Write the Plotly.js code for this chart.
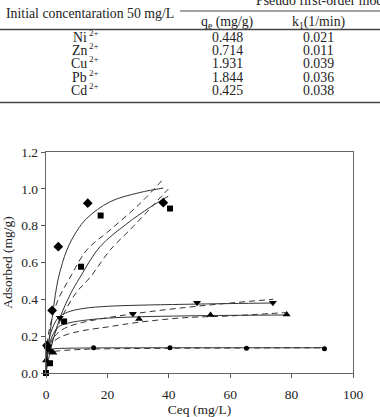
<!DOCTYPE html>
<html>
<head>
<meta charset="utf-8">
<script src="https://cdn.plot.ly/plotly-3.0.1.min.js"></script>
<style>
html,body{margin:0;padding:0;background:#fff;}
#chart{width:380px;height:417px;}
</style>
</head>
<body>
<div id="chart"></div>
<script>
// ---- Table data ----
var tableHeader = "Initial concentaration 50 mg/L";
var modelTitle = "Pseudo first-order model";
var colHeaders = ["q<sub>e</sub> (mg/g)", "k<sub>1</sub>(1/min)"];
var metals = ["Ni", "Zn", "Cu", "Pb", "Cd"];
var ionCharge = "2+";
var qeValues = ["0.448", "0.714", "1.931", "1.844", "0.425"];
var k1Values = ["0.021", "0.011", "0.039", "0.036", "0.038"];

// ---- Chart data: measured points ----
var cuX = [0.3, 2.0, 4.0, 13.6, 38.2];
var cuY = [0.15, 0.34, 0.686, 0.922, 0.925];
var pbX = [0.0, 1.3, 5.9, 11.4, 17.8, 40.4];
var pbY = [0.0, 0.053, 0.28, 0.577, 0.855, 0.893];
var znX = [0.5, 4.5, 28.3, 49.2, 73.9];
var znY = [0.13, 0.30, 0.322, 0.382, 0.382];
var niX = [0.0, 2.4, 30.3, 53.6, 78.4];
var niY = [0.068, 0.11, 0.293, 0.315, 0.318];
var cdX = [0.2, 1.6, 15.5, 40.4, 65.3, 90.7];
var cdY = [0.14, 0.12, 0.137, 0.137, 0.135, 0.132];

// ---- Fitted curves ----
var cuSolidX = [0, 0.5, 1, 2, 3, 4.1, 6.8, 10, 13.3, 20.9, 30.6, 38.2];
var cuSolidY = [0, 0.1, 0.18, 0.3, 0.42, 0.52, 0.668, 0.77, 0.84, 0.93, 0.98, 1.004];
var cuDashX = [0.1, 0.5, 1, 2, 4, 7.9, 13.3, 20.9, 30.6, 38.2];
var cuDashY = [0.1, 0.18, 0.23, 0.3, 0.4, 0.52, 0.668, 0.777, 0.92, 1.053];
var pbSolidX = [0, 1, 2, 3, 5, 8, 11.1, 17.6, 26.3, 33.9, 39.8];
var pbSolidY = [0, 0.09, 0.16, 0.22, 0.32, 0.43, 0.52, 0.686, 0.81, 0.9, 0.96];
var pbDashX = [0.1, 1, 3, 6, 10, 14.4, 20.9, 28.4, 35, 39.8];
var pbDashY = [0.06, 0.12, 0.22, 0.33, 0.44, 0.52, 0.668, 0.795, 0.913, 0.998];
var znSolidX = [0, 0.5, 1, 2, 4, 7, 12, 20, 30, 45, 60, 74];
var znSolidY = [0, 0.12, 0.18, 0.24, 0.3, 0.33, 0.35, 0.362, 0.368, 0.373, 0.377, 0.38];
var znDashX = [0.2, 1, 2, 4, 7, 12, 20, 30, 45, 60, 74];
var znDashY = [0.1, 0.15, 0.18, 0.22, 0.25, 0.275, 0.3, 0.325, 0.355, 0.38, 0.4];
var niSolidX = [0, 0.5, 1, 2, 4, 7, 12, 20, 30, 45, 60, 78];
var niSolidY = [0, 0.1, 0.15, 0.2, 0.25, 0.27, 0.285, 0.298, 0.305, 0.31, 0.313, 0.315];
var niDashX = [0.2, 1, 2, 4, 7, 12, 20, 30, 45, 60, 78];
var niDashY = [0.08, 0.13, 0.16, 0.19, 0.21, 0.23, 0.25, 0.275, 0.3, 0.31, 0.328];
var cdSolidX = [0, 0.3, 0.7, 1.5, 3, 6, 15, 40, 65, 90.7];
var cdSolidY = [0, 0.1, 0.12, 0.128, 0.132, 0.134, 0.136, 0.137, 0.137, 0.137];
var cdDashX = [0.2, 1, 2, 4, 8, 15, 30, 50, 70, 90.7];
var cdDashY = [0.09, 0.11, 0.115, 0.12, 0.125, 0.13, 0.133, 0.135, 0.136, 0.137];

var xTicks = [0, 20, 40, 60, 80, 100];
var yTicks = [0.0, 0.2, 0.4, 0.6, 0.8, 1.0, 1.2];

// ---- Build traces ----
var lineColor = "#333";
function curve(x, y, dashed) {
  return {x: x, y: y, type: "scatter", mode: "lines", hoverinfo: "skip",
    line: {color: lineColor, width: 1, shape: "spline", smoothing: 1, dash: dashed ? "6px,4px" : "solid"},
    showlegend: false, cliponaxis: false};
}
function pts(x, y, sym, size) {
  return {x: x, y: y, type: "scatter", mode: "markers", showlegend: false, cliponaxis: false,
    marker: {symbol: sym, size: size, color: "#000"}};
}
var traces = [
  curve(cuSolidX, cuSolidY, false), curve(cuDashX, cuDashY, true),
  curve(pbSolidX, pbSolidY, false), curve(pbDashX, pbDashY, true),
  curve(znSolidX, znSolidY, false), curve(znDashX, znDashY, true),
  curve(niSolidX, niSolidY, false), curve(niDashX, niDashY, true),
  curve(cdSolidX, cdSolidY, false), curve(cdDashX, cdDashY, true),
  pts(cuX, cuY, "diamond", 7.5),
  pts(pbX, pbY, "square", 6),
  pts(znX, znY, "triangle-down", 7),
  pts(niX, niY, "triangle-up", 7),
  pts(cdX, cdY, "circle", 5)
];

// ---- Layout ----
var L = 46, R = 27, T = 152, B = 44, W = 380, H = 417;
var pw = W - L - R, ph = H - T - B;
function px2x(px) { return (px - L) / pw; }
function py2y(py) { return (H - B - py) / ph; }

var font = "Liberation Serif, Times New Roman, serif";
var annotations = [];
function txt(t, px, py, anchor, size) {
  annotations.push({text: t, xref: "paper", yref: "paper", x: px2x(px), y: py2y(py),
    xanchor: anchor || "center", yanchor: "middle", showarrow: false, borderpad: 0,
    font: {family: font, size: size || 13.8, color: "#222"}});
}
txt(tableHeader, 90, 13);
txt(modelTitle, 255, 0, "left");
txt(colHeaders[0], 227, 22.5);
txt(colHeaders[1], 318, 22.5);
var rowY = [37.5, 50.7, 63.9, 77.1, 90.3];
for (var i = 0; i < metals.length; i++) {
  txt(metals[i], 88, rowY[i], "right");
  txt(ionCharge, 88, rowY[i] - 4.5, "left", 9);
  txt(qeValues[i], 227, rowY[i]);
  txt(k1Values[i], 318, rowY[i]);
}

var shapes = [];
function hline(x0, x1, py, w) {
  shapes.push({type: "line", xref: "paper", yref: "paper", x0: px2x(x0), x1: px2x(x1),
    y0: py2y(py), y1: py2y(py), line: {color: "#444", width: w}});
}
hline(180, 380, 11, 1);
hline(0, 380, 29.5, 1.5);
hline(0, 380, 102.5, 1.5);

var axisCommon = {
  showline: true, linecolor: "#666", linewidth: 1.3, mirror: true,
  ticks: "outside", ticklen: 4, tickcolor: "#555", tickwidth: 1,
  showgrid: false, zeroline: false,
  tickfont: {family: font, size: 13.5, color: "#222"}
};

var layout = {
  width: W, height: H,
  margin: {l: L, r: R, t: T, b: B},
  paper_bgcolor: "#fff", plot_bgcolor: "#fff",
  showlegend: false,
  xaxis: Object.assign({}, axisCommon, {
    range: [0, 100], tickvals: xTicks, ticktext: xTicks.map(String), ticklabelstandoff: 4,
    title: {text: "Ceq (mg/L)", font: {family: font, size: 13.5, color: "#222"}, standoff: 13}
  }),
  yaxis: Object.assign({}, axisCommon, {
    range: [0, 1.2], tickvals: yTicks, ticktext: yTicks.map(function(v){return v.toFixed(1);}), ticklabelstandoff: 0,
    title: {text: "Adsorbed (mg/g)", font: {family: font, size: 13.5, color: "#222"}, standoff: 10}
  }),
  annotations: annotations,
  shapes: shapes
};

Plotly.newPlot("chart", traces, layout, {staticPlot: true, displayModeBar: false});
</script>
</body>
</html>
